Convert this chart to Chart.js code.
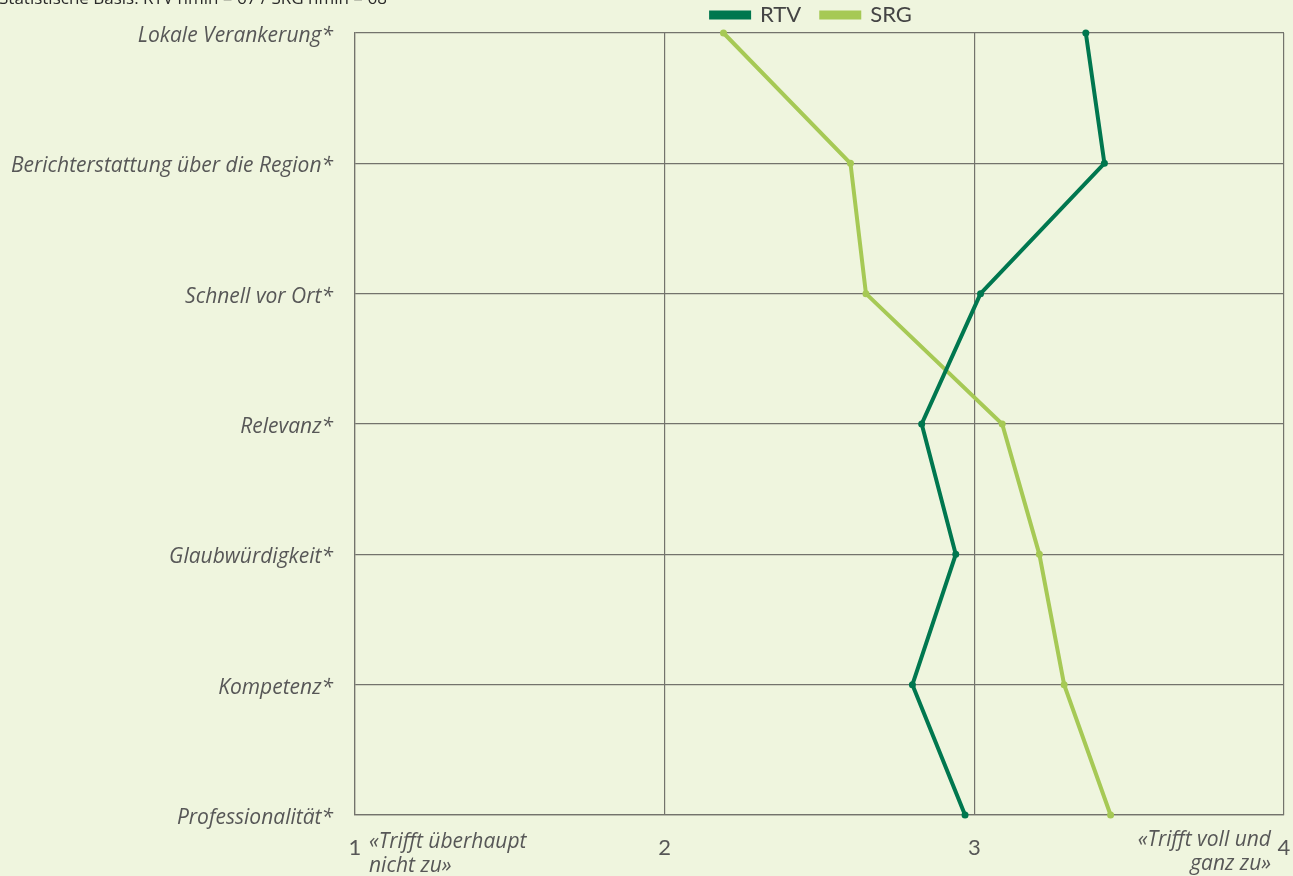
<!DOCTYPE html>
<html>
<head>
  <meta charset="utf-8">
  <title>RTV / SRG Image</title>
  <script src="https://cdn.jsdelivr.net/npm/chart.js"></script>
  <style>
    body {
      margin: 0;
      background: #eff5de;
    }
    #wrap {
      width: 1293px;
      height: 876px;
    }
  </style>
</head>
<body>
  <div id="wrap"><canvas id="chartImage" width="1293" height="876"></canvas></div>

  <script>
    // data
    const categories = [
      'Lokale Verankerung*',
      'Berichterstattung über die Region*',
      'Schnell vor Ort*',
      'Relevanz*',
      'Glaubwürdigkeit*',
      'Kompetenz*',
      'Professionalität*'
    ];
    const rtv = [3.36, 3.42, 3.02, 2.83, 2.94, 2.80, 2.97];
    const srg = [2.19, 2.60, 2.65, 3.09, 3.21, 3.29, 3.44];
    const scaleTicks = [1, 2, 3, 4];
    const lowLabel = ['«Trifft überhaupt', 'nicht zu»'];
    const highLabel = ['«Trifft voll und', 'ganz zu»'];
    const note = 'Statistische Basis: RTV nmin = 67 / SRG nmin = 68';

    const textGrey = '#575757';
    const gridGrey = '#73736c';

    // legend sits a bit right of the canvas centre in the original
    const legendShift = {
      id: 'legendShift',
      afterLayout(chart) {
        chart.legend.left = 339;
        chart.legend.top += 3;
      }
    };

    // end labels under the axis + the cut off note at the top
    const extraText = {
      id: 'extraText',
      afterDraw(chart) {
        const ctx = chart.ctx;
        const x = chart.scales.x;
        ctx.save();
        ctx.fillStyle = textGrey;
        ctx.font = 'italic 21px "Open Sans"';
        ctx.textBaseline = 'alphabetic';
        ctx.textAlign = 'left';
        const lx = x.getPixelForValue(scaleTicks[0]) + 14;
        ctx.fillText(lowLabel[0], lx, 848);
        ctx.fillText(lowLabel[1], lx, 872);
        ctx.textAlign = 'right';
        const rx = x.getPixelForValue(scaleTicks[scaleTicks.length - 1]) - 13;
        ctx.fillText(highLabel[0], rx, 846);
        ctx.fillText(highLabel[1], rx, 870);

        ctx.fillStyle = '#2a2a2a';
        ctx.font = '17px "Open Sans"';
        ctx.textAlign = 'left';
        ctx.fillText(note, -1, 4);
        ctx.restore();
      }
    };

    const ctx = document.getElementById('chartImage').getContext('2d');
    const chart = new Chart(ctx, {
      type: 'line',
      data: {
        labels: categories,
        datasets: [
          {
            label: 'RTV',
            data: rtv,
            borderColor: '#00774f',
            backgroundColor: '#00774f',
            borderWidth: 4,
            pointRadius: 3.5,
            pointBorderWidth: 0,
            tension: 0
          },
          {
            label: 'SRG',
            data: srg,
            borderColor: '#a6c955',
            backgroundColor: '#a6c955',
            borderWidth: 4,
            pointRadius: 3.5,
            pointBorderWidth: 0,
            tension: 0
          }
        ]
      },
      options: {
        responsive: false,
        animation: false,
        indexAxis: 'y',
        layout: {
          padding: { left: 0, right: 9, top: -19, bottom: 0 }
        },
        plugins: {
          legend: {
            position: 'top',
            labels: {
              boxWidth: 38,
              boxHeight: 5,
              padding: 20,
              color: '#444',
              font: { family: 'Lato', size: 22 }
            }
          },
          tooltip: { enabled: false }
        },
        scales: {
          y: {
            type: 'category',
            offset: false,
            afterFit(scale) { scale.width = 355; },
            grid: { color: gridGrey, lineWidth: 1.2, drawTicks: true, tickLength: 22, tickColor: 'transparent' },
            border: { color: gridGrey, width: 1.2 },
            ticks: {
              padding: 0,
              labelOffset: 3,
              color: textGrey,
              font: { family: 'Open Sans', style: 'italic', size: 21 }
            }
          },
          x: {
            type: 'linear',
            min: 1,
            max: 4,
            afterFit(scale) { scale.height = 61; },
            grid: { color: gridGrey, lineWidth: 1.2, drawTicks: true, tickLength: 20, tickColor: 'transparent' },
            border: { color: gridGrey, width: 1.2 },
            afterBuildTicks(scale) {
              scale.ticks = scaleTicks.map(v => ({ value: v }));
            },
            ticks: {
              padding: 0,
              color: textGrey,
              font: { family: 'Lato', size: 22 }
            }
          }
        }
      },
      plugins: [legendShift, extraText]
    });
  </script>
</body>
</html>
